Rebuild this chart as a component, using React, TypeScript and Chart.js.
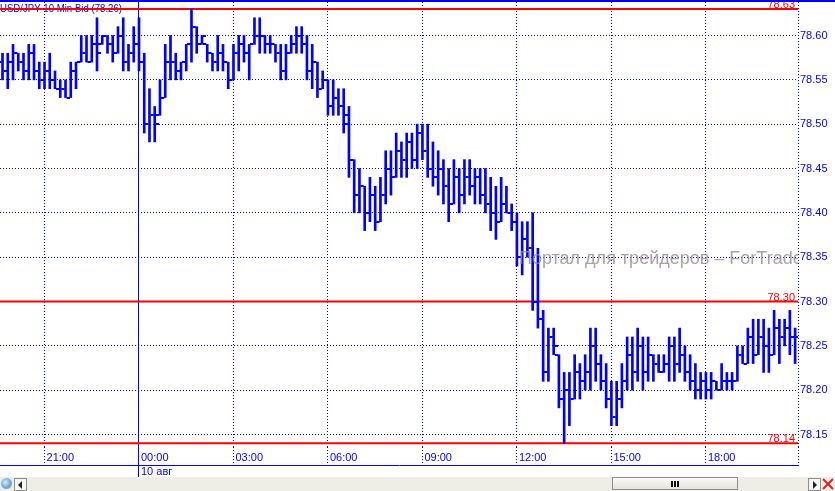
import React, { useEffect, useRef } from 'react';
import { Chart, registerables } from 'chart.js';

Chart.register(...registerables);

// ---- data (USD/JPY 10 min bars) ----
const highs = [
  78.58, 78.58, 78.59, 78.58, 78.58, 78.59, 78.59, 78.57, 78.57, 78.58,
  78.56, 78.55, 78.55, 78.57, 78.57, 78.60, 78.60, 78.60, 78.62, 78.60,
  78.60, 78.60, 78.61, 78.62, 78.59, 78.61, 78.62, 78.58, 78.54, 78.52,
  78.55, 78.59, 78.60, 78.58, 78.57, 78.59, 78.63, 78.61, 78.60, 78.59,
  78.58, 78.60, 78.59, 78.57, 78.59, 78.60, 78.60, 78.59, 78.62, 78.62,
  78.60, 78.60, 78.59, 78.59, 78.59, 78.60, 78.61, 78.61, 78.60, 78.59,
  78.57, 78.56, 78.55, 78.55, 78.54, 78.54, 78.52, 78.46, 78.45, 78.43,
  78.44, 78.43, 78.44, 78.47, 78.47, 78.49, 78.48, 78.49, 78.49, 78.50,
  78.50, 78.50, 78.48, 78.47, 78.46, 78.45, 78.46, 78.45, 78.46, 78.46,
  78.45, 78.45, 78.45, 78.44, 78.43, 78.44, 78.43, 78.41, 78.40, 78.39,
  78.39, 78.40, 78.36, 78.29, 78.27, 78.27, 78.24, 78.22, 78.22, 78.24,
  78.23, 78.24, 78.27, 78.27, 78.24, 78.23, 78.21, 78.21, 78.23, 78.26,
  78.26, 78.27, 78.26, 78.26, 78.24, 78.24, 78.24, 78.26, 78.26, 78.27,
  78.25, 78.24, 78.23, 78.22, 78.22, 78.22, 78.21, 78.23, 78.22, 78.22,
  78.25, 78.25, 78.27, 78.28, 78.28, 78.28, 78.27, 78.29, 78.28, 78.28,
  78.29, 78.27,
];
const lows = [
  78.55, 78.54, 78.55, 78.56, 78.55, 78.55, 78.55, 78.54, 78.54, 78.54,
  78.54, 78.53, 78.53, 78.53, 78.54, 78.57, 78.57, 78.57, 78.56, 78.59,
  78.58, 78.57, 78.58, 78.56, 78.56, 78.57, 78.56, 78.49, 78.48, 78.48,
  78.51, 78.53, 78.55, 78.55, 78.55, 78.56, 78.57, 78.58, 78.59, 78.57,
  78.56, 78.56, 78.56, 78.54, 78.55, 78.56, 78.57, 78.55, 78.59, 78.58,
  78.58, 78.58, 78.57, 78.55, 78.55, 78.58, 78.58, 78.58, 78.55, 78.54,
  78.53, 78.54, 78.51, 78.51, 78.51, 78.49, 78.44, 78.40, 78.40, 78.38,
  78.39, 78.38, 78.39, 78.41, 78.42, 78.44, 78.44, 78.44, 78.45, 78.45,
  78.46, 78.44, 78.43, 78.42, 78.41, 78.39, 78.41, 78.40, 78.41, 78.42,
  78.41, 78.41, 78.40, 78.38, 78.37, 78.39, 78.40, 78.38, 78.34, 78.33,
  78.35, 78.29, 78.27, 78.21, 78.21, 78.24, 78.18, 78.14, 78.16, 78.19,
  78.19, 78.20, 78.20, 78.21, 78.20, 78.18, 78.16, 78.16, 78.18, 78.20,
  78.20, 78.21, 78.20, 78.21, 78.21, 78.22, 78.22, 78.21, 78.21, 78.22,
  78.21, 78.20, 78.19, 78.19, 78.19, 78.19, 78.20, 78.20, 78.20, 78.20,
  78.21, 78.23, 78.23, 78.23, 78.24, 78.22, 78.22, 78.24, 78.23, 78.25,
  78.24, 78.23,
];
const opens = [
  78.57, 78.56, 78.57, 78.58, 78.57, 78.56, 78.58, 78.56, 78.55, 78.56,
  78.55, 78.54, 78.54, 78.53, 78.56, 78.57, 78.58, 78.57, 78.59, 78.59,
  78.60, 78.59, 78.58, 78.60, 78.57, 78.58, 78.59, 78.57, 78.50, 78.51,
  78.51, 78.53, 78.57, 78.57, 78.56, 78.57, 78.59, 78.61, 78.59, 78.59,
  78.58, 78.57, 78.58, 78.57, 78.55, 78.58, 78.59, 78.58, 78.59, 78.60,
  78.60, 78.59, 78.59, 78.58, 78.56, 78.58, 78.59, 78.60, 78.59, 78.56,
  78.57, 78.54, 78.55, 78.52, 78.53, 78.52, 78.51, 78.46, 78.42, 78.43,
  78.40, 78.42, 78.39, 78.42, 78.45, 78.44, 78.47, 78.46, 78.48, 78.46,
  78.49, 78.47, 78.45, 78.44, 78.45, 78.43, 78.41, 78.44, 78.42, 78.44,
  78.43, 78.44, 78.42, 78.41, 78.40, 78.39, 78.41, 78.40, 78.39, 78.35,
  78.37, 78.36, 78.30, 78.28, 78.22, 78.26, 78.24, 78.19, 78.20, 78.19,
  78.22, 78.21, 78.22, 78.25, 78.23, 78.21, 78.19, 78.17, 78.19, 78.21,
  78.24, 78.22, 78.25, 78.22, 78.24, 78.23, 78.22, 78.23, 78.25, 78.23,
  78.24, 78.22, 78.21, 78.20, 78.21, 78.20, 78.21, 78.20, 78.21, 78.21,
  78.21, 78.24, 78.23, 78.26, 78.24, 78.26, 78.25, 78.24, 78.27, 78.26,
  78.27, 78.26,
];
const closes = [
  78.56, 78.57, 78.58, 78.57, 78.56, 78.58, 78.56, 78.55, 78.56, 78.55,
  78.54, 78.54, 78.53, 78.56, 78.57, 78.58, 78.57, 78.59, 78.58, 78.60,
  78.59, 78.58, 78.60, 78.57, 78.58, 78.59, 78.57, 78.50, 78.51, 78.50,
  78.53, 78.57, 78.57, 78.56, 78.57, 78.59, 78.61, 78.59, 78.60, 78.58,
  78.57, 78.58, 78.57, 78.55, 78.58, 78.59, 78.58, 78.59, 78.60, 78.60,
  78.59, 78.59, 78.58, 78.56, 78.58, 78.59, 78.60, 78.59, 78.56, 78.57,
  78.54, 78.55, 78.52, 78.53, 78.52, 78.50, 78.46, 78.42, 78.43, 78.40,
  78.42, 78.39, 78.42, 78.45, 78.44, 78.47, 78.46, 78.48, 78.46, 78.49,
  78.47, 78.45, 78.44, 78.45, 78.43, 78.41, 78.44, 78.42, 78.44, 78.43,
  78.44, 78.42, 78.41, 78.40, 78.39, 78.41, 78.40, 78.39, 78.35, 78.37,
  78.36, 78.30, 78.28, 78.22, 78.26, 78.25, 78.19, 78.20, 78.19, 78.22,
  78.21, 78.22, 78.25, 78.23, 78.21, 78.19, 78.17, 78.19, 78.21, 78.24,
  78.22, 78.25, 78.22, 78.24, 78.23, 78.22, 78.23, 78.25, 78.23, 78.24,
  78.22, 78.21, 78.20, 78.21, 78.20, 78.21, 78.20, 78.21, 78.21, 78.21,
  78.24, 78.23, 78.26, 78.24, 78.26, 78.25, 78.24, 78.27, 78.26, 78.27,
  78.26, 78.26,
];

// time axis: bar index of each labelled hour
const timeTickIdx = [8, 26, 44, 62, 80, 98, 116, 134];
const timeTickLabels = ['21:00', '00:00', '03:00', '06:00', '09:00', '12:00', '15:00', '18:00'];
const dateIdx = 26;
const dateLabel = '10 авг';

// price axis
const priceTicks = [78.15, 78.2, 78.25, 78.3, 78.35, 78.4, 78.45, 78.5, 78.55, 78.6];
const levelLines = [78.63, 78.3, 78.14];

const titleText = 'USD/JPY 10 Min Bid (78.26)';
const watermarkText = 'Портал для трейдеров – ForTrader.ru';

// ---- styling ----
const FONT = '"Liberation Sans", Arial, sans-serif';
const BLUE = '#0000ff';
const RED = '#ff0000';
const X_MIN = -0.48;
const X_MAX = 151.55;
const Y_MIN = 78.1359;
const Y_MAX = 78.6378;

const noPad = (s: any) => {
  s.paddingLeft = 0;
  s.paddingRight = 0;
  s.paddingTop = 0;
  s.paddingBottom = 0;
};

export default function App() {
  const ref = useRef<HTMLCanvasElement | null>(null);

  useEffect(() => {
    const mkTick = (left: boolean) => {
      const c = document.createElement('canvas');
      c.width = 8;
      c.height = 2;
      const g = c.getContext('2d')!;
      g.fillStyle = BLUE;
      g.fillRect(left ? 0 : 5, 0, 3, 2);
      return c;
    };
    const openImg = mkTick(true);
    const closeImg = mkTick(false);
    const idx = highs.map((_, i) => i);

    const overlay = {
      id: 'overlay',
      beforeDatasetsDraw(chart: any) {
        const ctx = chart.ctx;
        ctx.save();
        ctx.font = `11px ${FONT}`;
        ctx.fillStyle = BLUE;
        ctx.textBaseline = 'alphabetic';
        ctx.textAlign = 'left';
        ctx.translate(0, 11.5);
        ctx.scale(0.875, 1);
        ctx.fillText(titleText, 0, 0);
        ctx.restore();
      },
      afterDatasetsDraw(chart: any) {
        const ctx = chart.ctx;
        const ys = chart.scales.y;
        const a = chart.chartArea;
        ctx.save();
        ctx.beginPath();
        ctx.rect(a.left, a.top, a.right - a.left, a.bottom - a.top);
        ctx.clip();
        ctx.font = `18px ${FONT}`;
        ctx.fillStyle = 'rgba(150,138,138,0.8)';
        ctx.textBaseline = 'alphabetic';
        ctx.textAlign = 'left';
        ctx.fillText(watermarkText, 519, 263.5);
        ctx.restore();

        ctx.save();
        ctx.font = `11px ${FONT}`;
        ctx.fillStyle = RED;
        ctx.textAlign = 'right';
        ctx.textBaseline = 'alphabetic';
        levelLines.forEach((lv) => {
          ctx.fillText(lv.toFixed(2), a.right - 3, ys.getPixelForValue(lv) - 1);
        });
        ctx.restore();
      },
    };

    const chart = new Chart(ref.current!, {
      type: 'bar',
      data: {
        datasets: [
          ...levelLines.map((lv) => ({
            type: 'line',
            data: [{ x: X_MIN, y: lv }, { x: X_MAX, y: lv }],
            borderColor: RED,
            borderWidth: 2,
            pointRadius: 0,
            order: 5,
          })),
          {
            type: 'bar',
            data: idx.map((i) => ({ x: i, y: [lows[i], highs[i]] })),
            backgroundColor: BLUE,
            borderWidth: 0,
            barThickness: 2,
            grouped: false,
            order: 2,
          },
          {
            type: 'scatter',
            data: idx.map((i) => ({ x: i, y: opens[i] })),
            pointStyle: openImg,
            pointRadius: 3,
            order: 1,
          },
          {
            type: 'scatter',
            data: idx.map((i) => ({ x: i, y: closes[i] })),
            pointStyle: closeImg,
            pointRadius: 3,
            order: 1,
          },
        ] as any,
      },
      options: {
        animation: false,
        responsive: false,
        maintainAspectRatio: false,
        events: [],
        layout: { autoPadding: false, padding: { top: 2, bottom: 14, left: 0, right: 0 } },
        plugins: { legend: { display: false }, tooltip: { enabled: false }, title: { display: false } },
        scales: {
          x: {
            type: 'linear',
            position: 'bottom',
            weight: 0,
            min: X_MIN,
            max: X_MAX,
            offset: false,
            afterBuildTicks: (s: any) => {
              s.ticks = [...timeTickIdx, X_MAX].map((v) => ({ value: v }));
            },
            afterFit: (s: any) => {
              s.height = 18;
              noPad(s);
            },
            ticks: {
              autoSkip: false,
              maxRotation: 0,
              minRotation: 0,
              align: 'start',
              labelOffset: 2,
              padding: -14,
              color: BLUE,
              font: { family: FONT, size: 11 },
              callback: (v: any) => {
                const k = timeTickIdx.indexOf(v);
                return k >= 0 ? timeTickLabels[k] : '';
              },
            },
            grid: {
              offset: false,
              lineWidth: 1,
              color: (c: any) => (c.tick && c.tick.value === dateIdx ? 'rgba(0,0,0,0)' : BLUE),
              drawTicks: true,
              tickLength: 18,
              tickColor: BLUE,
              tickBorderDash: (c: any) => (c.tick && c.tick.value === dateIdx ? [] : [1, 2]),
            },
            border: { display: false, dash: [1, 2] },
          },
          x2: {
            type: 'linear',
            position: 'bottom',
            weight: 1,
            min: X_MIN,
            max: X_MAX,
            offset: false,
            afterBuildTicks: (s: any) => {
              s.ticks = [{ value: dateIdx }];
            },
            afterFit: (s: any) => {
              s.height = 12;
              noPad(s);
            },
            ticks: {
              autoSkip: false,
              maxRotation: 0,
              minRotation: 0,
              align: 'start',
              labelOffset: 2,
              padding: -12,
              color: BLUE,
              font: { family: FONT, size: 11 },
              callback: () => dateLabel,
            },
            grid: {
              offset: false,
              lineWidth: 1,
              color: BLUE,
              drawTicks: true,
              tickLength: 12,
              tickColor: BLUE,
            },
            border: { display: true, color: BLUE, width: 1 },
          },
          y: {
            type: 'linear',
            position: 'right',
            min: Y_MIN,
            max: Y_MAX,
            afterBuildTicks: (s: any) => {
              s.ticks = priceTicks.map((v) => ({ value: v }));
            },
            afterFit: (s: any) => {
              s.width = 37;
              noPad(s);
            },
            ticks: {
              autoSkip: false,
              padding: 2,
              color: BLUE,
              font: { family: FONT, size: 11 },
              callback: (v: any) => Number(v).toFixed(2),
            },
            grid: { color: BLUE, lineWidth: 1, drawTicks: false },
            border: { display: false, dash: [1, 2] },
          },
        },
      } as any,
      plugins: [overlay],
    });
    return () => chart.destroy();
  }, []);

  const btn: React.CSSProperties = {
    position: 'absolute',
    top: 1,
    width: 11,
    height: 11,
    border: '1px solid #8e8e8e',
    background: '#f6f6f2',
    boxSizing: 'content-box',
  };

  return (
    <div
      style={{
        position: 'fixed',
        left: 0,
        top: 0,
        width: 835,
        height: 491,
        background: '#ffffff',
        overflow: 'hidden',
      }}
    >
      <canvas ref={ref} width={835} height={491} style={{ position: 'absolute', left: 0, top: 0, width: 835, height: 491 }} />
      <div style={{ position: 'absolute', left: 0, top: 0, width: 835, height: 2, background: BLUE }} />
      <div style={{ position: 'absolute', left: 0, top: 477, width: 835, height: 14, background: '#eeede6' }}>
        <div
          style={{
            position: 'absolute',
            left: 1,
            top: 1,
            width: 11,
            height: 11,
            borderRadius: 6,
            background: 'radial-gradient(circle at 40% 40%, #d6ecff 0%, #6aa6e0 55%, #e0a020 100%)',
          }}
        />
        <div style={{ ...btn, left: 14 }}>
          <div
            style={{
              position: 'absolute',
              left: 3,
              top: 2,
              width: 0,
              height: 0,
              borderTop: '4px solid transparent',
              borderBottom: '4px solid transparent',
              borderRight: '4px solid #222',
            }}
          />
        </div>
        <div
          style={{
            position: 'absolute',
            left: 612,
            top: 0,
            width: 124,
            height: 11,
            border: '1px solid #8c8c8c',
            background: 'linear-gradient(#fafaf6, #e6e4dc)',
          }}
        >
          {[0, 1, 2].map((k) => (
            <div key={k} style={{ position: 'absolute', left: 58 + k * 3, top: 3, width: 2, height: 6, background: '#111' }} />
          ))}
        </div>
        <div style={{ ...btn, left: 808 }}>
          <div
            style={{
              position: 'absolute',
              left: 4,
              top: 2,
              width: 0,
              height: 0,
              borderTop: '4px solid transparent',
              borderBottom: '4px solid transparent',
              borderLeft: '4px solid #222',
            }}
          />
        </div>
        <div style={{ position: 'absolute', left: 822, top: 1, width: 13, height: 12 }}>
          <div style={{ position: 'absolute', left: 5, top: -1, width: 2, height: 14, background: '#d22', transform: 'rotate(45deg)' }} />
          <div style={{ position: 'absolute', left: 5, top: -1, width: 2, height: 14, background: '#d22', transform: 'rotate(-45deg)' }} />
        </div>
      </div>
    </div>
  );
}
